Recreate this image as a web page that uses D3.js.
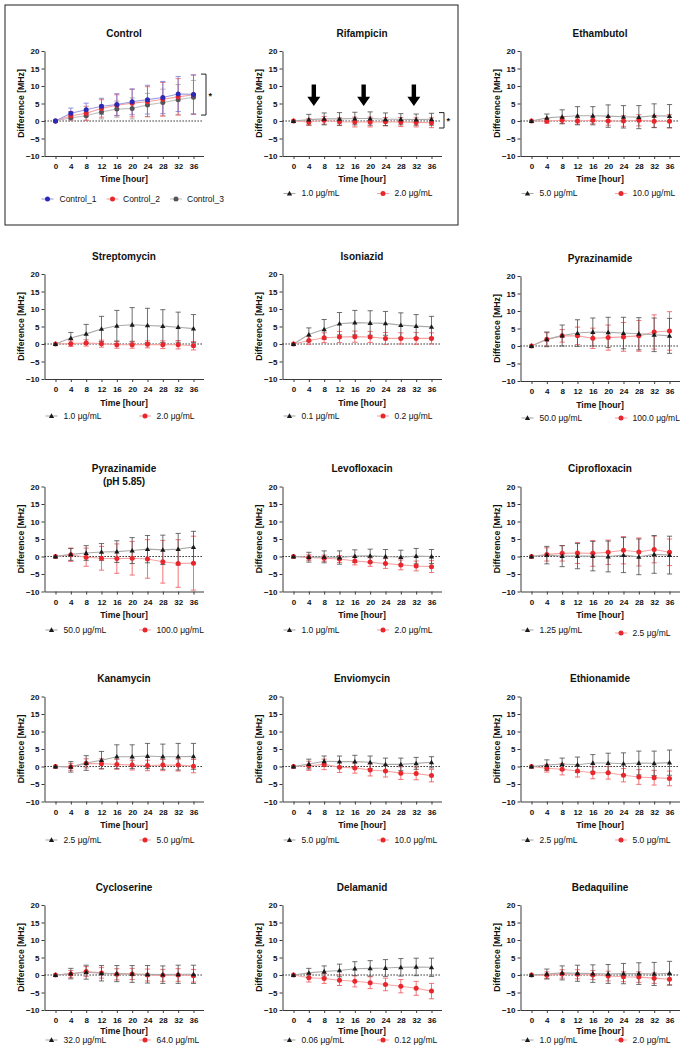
<!DOCTYPE html>
<html><head><meta charset="utf-8">
<script src="https://cdn.jsdelivr.net/npm/d3@7"></script>
<style>
body{margin:0;background:#fff}
svg{display:block}
text{font-family:"Liberation Sans",Arial,Helvetica,sans-serif}
</style>
</head><body>
<svg id="chart" width="685" height="1046"></svg>
<script>
// ---------- DATA ----------
const times = [0,4,8,12,16,20,24,28,32,36];
const yTicks = [-10,-5,0,5,10,15,20];

const controlNames = ["Control_1","Control_2","Control_3"];
const control1 = [0,2.2,3.2,4.2,4.7,5.5,6.1,6.7,7.7,7.6];
const control1SD = [0,1.5,1.9,2.3,3.1,3.7,4.1,4.6,5.0,5.6];
const control2 = [0,1.5,2.2,3.6,4.5,5.1,5.5,6.2,6.9,7.5];
const control2SD = [0,1.2,2.0,2.5,3.0,3.9,4.3,4.8,5.2,5.6];
const control3 = [0,0.9,1.5,2.6,3.4,3.6,4.6,5.3,6.1,6.8];
const control3SD = [0,0.8,1.3,2.0,2.3,3.0,3.3,3.8,4.3,4.8];

const drugTitles = ["Rifampicin","Ethambutol","Streptomycin","Isoniazid","Pyrazinamide","Pyrazinamide|(pH 5.85)","Levofloxacin","Ciprofloxacin","Kanamycin","Enviomycin","Ethionamide","Cycloserine","Delamanid","Bedaquiline"];
const lowDoseLabels = ["1.0 μg/mL","5.0 μg/mL","1.0 μg/mL","0.1 μg/mL","50.0 μg/mL","50.0 μg/mL","1.0 μg/mL","1.25 μg/mL","2.5 μg/mL","5.0 μg/mL","2.5 μg/mL","32.0 μg/mL","0.06 μg/mL","1.0 μg/mL"];
const highDoseLabels = ["2.0 μg/mL","10.0 μg/mL","2.0 μg/mL","0.2 μg/mL","100.0 μg/mL","100.0 μg/mL","2.0 μg/mL","2.5 μg/mL","5.0 μg/mL","10.0 μg/mL","5.0 μg/mL","64.0 μg/mL","0.12 μg/mL","2.0 μg/mL"];

const rifampicinLow = [0,0.4,0.6,0.6,0.7,0.7,0.5,0.5,0.4,0.5];
const rifampicinLowSD = [0,1.5,1.7,1.8,1.8,1.9,1.8,1.6,1.6,1.7];
const rifampicinHigh = [0,-0.3,0.2,-0.2,-0.3,-0.3,-0.2,-0.3,-0.4,-0.5];
const rifampicinHighSD = [0,1.0,1.1,1.1,1.4,1.4,1.2,1.3,1.3,1.4];

const ethambutolLow = [0,0.9,1.2,1.5,1.5,1.4,1.2,1.1,1.5,1.4];
const ethambutolLowSD = [0,1.1,2.0,2.6,2.6,3.2,3.2,3.3,3.4,3.3];
const ethambutolHigh = [0,0,0.2,0,0.2,0,0,0.2,-0.1,-0.1];
const ethambutolHighSD = [0,0.7,0.9,0.9,1.0,1.2,1.5,1.6,1.7,1.9];

const streptomycinLow = [0,1.7,2.9,4.3,5.2,5.5,5.3,5.1,4.8,4.4];
const streptomycinLowSD = [0,1.6,2.7,3.6,4.4,4.9,4.9,4.7,4.3,4.0];
const streptomycinHigh = [0,0.1,0.3,0.1,-0.2,-0.2,-0.1,-0.2,-0.2,-0.5];
const streptomycinHighSD = [0,0.8,0.9,1.0,1.0,1.0,1.0,1.1,1.2,1.2];

const isoniazidLow = [0,2.7,4.2,5.8,6.1,6.0,5.9,5.4,5.1,4.9];
const isoniazidLowSD = [0,1.9,2.8,3.2,3.5,3.5,3.4,3.5,3.3,3.0];
const isoniazidHigh = [0,1.0,1.8,2.0,2.1,2.0,1.6,1.6,1.6,1.6];
const isoniazidHighSD = [0,1.1,1.4,1.6,1.6,1.6,1.7,1.6,1.7,1.6];

const pyrazinamideLow = [0,1.9,3.0,3.7,4.0,3.9,3.7,3.5,3.2,2.9];
const pyrazinamideLowSD = [0,2.1,3.0,3.8,4.0,4.3,4.5,4.6,4.8,5.0];
const pyrazinamideHigh = [0,1.9,2.9,2.9,2.2,2.4,2.6,2.9,4.0,4.3];
const pyrazinamideHighSD = [0,1.9,1.8,2.5,2.9,3.6,4.1,4.4,4.9,5.5];

const pyrazinamidePhLow = [0,0.6,1.0,1.3,1.4,1.7,2.1,1.9,2.1,2.7];
const pyrazinamidePhLowSD = [0,1.7,2.1,2.4,3.1,3.7,3.9,4.2,4.5,4.5];
const pyrazinamidePhHigh = [0,0.5,-0.2,-0.5,-0.6,-0.5,-0.7,-1.5,-2.0,-1.9];
const pyrazinamidePhHighSD = [0,1.9,2.6,3.4,4.2,4.8,5.5,6.1,6.8,7.7];

const levofloxacinLow = [0,-0.2,-0.1,-0.3,0.1,0.2,0,-0.2,0.1,0];
const levofloxacinLowSD = [0,1.4,1.7,1.9,1.8,1.9,2.0,2.0,2.2,2.0];
const levofloxacinHigh = [0,-0.3,-0.5,-0.7,-1.3,-1.6,-2.0,-2.4,-2.7,-2.9];
const levofloxacinHighSD = [0,0.8,0.9,1.0,1.1,1.2,1.4,1.4,1.4,1.7];

const ciprofloxacinLow = [0,0.4,0.1,0.1,0.1,0,0.4,-0.1,0.6,0.4];
const ciprofloxacinLowSD = [0,2.5,3.0,3.6,4.2,4.4,5.0,5.1,5.4,5.4];
const ciprofloxacinHigh = [0,0.6,0.9,1.0,0.9,1.2,1.8,1.3,2.0,1.2];
const ciprofloxacinHighSD = [0,1.9,2.2,3.0,3.7,3.5,3.9,4.0,3.8,3.8];

const kanamycinLow = [0,-0.1,1.0,1.8,2.8,2.8,3.0,2.8,2.8,2.9];
const kanamycinLowSD = [0,1.5,2.1,2.5,3.4,3.4,3.6,3.6,3.8,3.7];
const kanamycinHigh = [0,-0.1,0.9,0.8,0.6,0.4,0.3,0.4,0.4,0.1];
const kanamycinHighSD = [0,1.0,1.3,1.4,1.4,1.4,1.5,1.6,1.7,1.9];

const enviomycinLow = [0,0.7,1.5,1.4,1.4,1.2,0.6,0.6,0.9,1.2];
const enviomycinLowSD = [0,1.4,1.5,1.6,1.8,1.8,1.8,1.8,1.7,1.6];
const enviomycinHigh = [0,0.2,0.6,-0.2,-0.4,-1.0,-1.3,-1.9,-2.0,-2.6];
const enviomycinHighSD = [0,1.3,1.5,1.5,1.5,1.7,1.7,1.8,1.8,1.8];

const ethionamideLow = [0,0.4,0.7,0.5,1.0,1.0,0.8,1.0,0.9,1.1];
const ethionamideLowSD = [0,1.5,1.7,2.2,2.4,2.8,3.1,3.4,3.5,3.6];
const ethionamideHigh = [0,-0.5,-0.8,-1.3,-1.8,-1.8,-2.5,-3.0,-3.2,-3.4];
const ethionamideHighSD = [0,1.1,1.6,1.7,1.7,1.8,1.9,2.1,2.1,2.1];

const cycloserineLow = [0,0.4,0.8,0.5,0.4,0.3,0.2,0.1,0.2,0.2];
const cycloserineLowSD = [0,1.5,2.0,2.2,2.3,2.4,2.5,2.5,2.6,2.6];
const cycloserineHigh = [0,0.3,1.0,0.6,0.2,0.3,0,-0.1,0,-0.2];
const cycloserineHighSD = [0,1.0,1.4,1.5,1.6,1.6,1.7,1.7,1.8,1.8];

const delamanidLow = [0,0.6,1.0,1.3,1.8,1.9,2.0,2.2,2.3,2.2];
const delamanidLowSD = [0,1.3,1.6,1.8,2.0,2.2,2.4,2.5,2.5,2.6];
const delamanidHigh = [0,-0.8,-1.0,-1.5,-1.8,-2.2,-2.7,-3.2,-3.8,-4.6];
const delamanidHighSD = [0,1.2,1.4,1.5,1.6,1.7,1.8,1.9,2.0,2.2];

const bedaquilineLow = [0,0.3,0.6,0.5,0.4,0.3,0.4,0.4,0.3,0.5];
const bedaquilineLowSD = [0,1.4,2.0,2.3,2.5,2.7,2.9,3.1,3.3,3.4];
const bedaquilineHigh = [0,-0.1,0.3,0.2,0,-0.3,-0.5,-0.6,-0.9,-1.2];
const bedaquilineHighSD = [0,1.0,1.2,1.3,1.3,1.4,1.4,1.5,1.5,1.6];

const rifampicinArrowTimes = [5.3, 18.3, 31.4];
const lowSeries = [rifampicinLow,ethambutolLow,streptomycinLow,isoniazidLow,pyrazinamideLow,pyrazinamidePhLow,levofloxacinLow,ciprofloxacinLow,kanamycinLow,enviomycinLow,ethionamideLow,cycloserineLow,delamanidLow,bedaquilineLow];
const lowSeriesSD = [rifampicinLowSD,ethambutolLowSD,streptomycinLowSD,isoniazidLowSD,pyrazinamideLowSD,pyrazinamidePhLowSD,levofloxacinLowSD,ciprofloxacinLowSD,kanamycinLowSD,enviomycinLowSD,ethionamideLowSD,cycloserineLowSD,delamanidLowSD,bedaquilineLowSD];
const highSeries = [rifampicinHigh,ethambutolHigh,streptomycinHigh,isoniazidHigh,pyrazinamideHigh,pyrazinamidePhHigh,levofloxacinHigh,ciprofloxacinHigh,kanamycinHigh,enviomycinHigh,ethionamideHigh,cycloserineHigh,delamanidHigh,bedaquilineHigh];
const highSeriesSD = [rifampicinHighSD,ethambutolHighSD,streptomycinHighSD,isoniazidHighSD,pyrazinamideHighSD,pyrazinamidePhHighSD,levofloxacinHighSD,ciprofloxacinHighSD,kanamycinHighSD,enviomycinHighSD,ethionamideHighSD,cycloserineHighSD,delamanidHighSD,bedaquilineHighSD];

// ---------- LAYOUT ----------
const colX = [44.5, 282.5, 520.5];
const rowTop = [51, 274, 486.5, 696.5, 905];
const legendOff = [142.5, 142, 143.5, 143.5, 135];
const timeOff = [128, 128.5, 128.5, 128.5, 126];
const PLOT_H = 105;

const svg = d3.select("#chart");

const styleLow  = {marker:"triangle", fill:"#1a1a1a", line:"#aaaaaa", bar:"#4a4a4a"};
const styleHigh = {marker:"circle", fill:"#e8262c", line:"#f6a3a3", bar:"#ef5257"};
const controlStyles = [
  {marker:"circle", fill:"#2a2ab5", line:"#9d9de3", bar:"#7676d6"},
  {marker:"circle", fill:"#e8262c", line:"#f6a3a3", bar:"#ef5a5e"},
  {marker:"circle", fill:"#555555", line:"#c4c4c4", bar:"#9a9a9a"}
];

function drawMarker(g, type, cx, cy, fill) {
  if (type === "circle") {
    g.append("circle").attr("cx", cx).attr("cy", cy).attr("r", 2.5).attr("fill", fill);
  } else {
    g.append("path").attr("d", d3.symbol(d3.symbolTriangle, 12)())
      .attr("transform", `translate(${cx},${cy + 0.4})`).attr("fill", fill);
  }
}

function drawPanel(opts) {
  const {x0, top, title, series, legend, legendY, timeY} = opts;
  const g = svg.append("g");
  const x = d3.scaleLinear().domain([-2.87, 38.61]).range([x0, x0 + 159]);
  const y = d3.scaleLinear().domain([-10, 20]).range([top + PLOT_H, top]);

  // title
  const tl = title.split("|");
  const tcx = x0 + 79.5;
  tl.forEach((t, i) => {
    g.append("text").attr("x", tcx).attr("y", top - 18 + (tl.length > 1 ? i * 12.4 : 0) + (tl.length > 1 ? 0.3 : 0))
      .attr("dy", "0.35em").attr("text-anchor", "middle")
      .attr("font-size", 10).attr("font-weight", "bold").attr("fill", "#111").text(t);
  });

  // axes
  const ya = g.append("g").attr("transform", `translate(${x0},0)`)
    .call(d3.axisLeft(y).tickValues(yTicks).tickSize(3).tickSizeOuter(0).tickPadding(2));
  const xa = g.append("g").attr("transform", `translate(0,${top + PLOT_H})`)
    .call(d3.axisBottom(x).tickValues(times).tickSize(3).tickSizeOuter(0).tickPadding(4.5));
  [ya, xa].forEach(a => {
    a.selectAll("path,line").attr("stroke", "#3a3a3a").attr("stroke-width", 1);
    a.selectAll("text").attr("font-size", 8).attr("font-weight", "bold").attr("fill", "#111")
      .attr("font-family", '"Liberation Sans",Arial,sans-serif');
  });

  // axis titles
  g.append("text").attr("transform", `translate(${x0 - 24},${top + PLOT_H / 2}) rotate(-90)`)
    .attr("text-anchor", "middle").attr("dy", "0.35em")
    .attr("font-size", 8.7).attr("font-weight", "bold").attr("fill", "#111").text("Difference [MHz]");
  g.append("text").attr("x", tcx).attr("y", top + timeY).attr("dy", "0.35em")
    .attr("text-anchor", "middle").attr("font-size", 8.7).attr("font-weight", "bold").attr("fill", "#111")
    .text("Time [hour]");

  // zero dotted line
  g.append("line").attr("x1", x0).attr("x2", x0 + 159).attr("y1", y(0)).attr("y2", y(0))
    .attr("stroke", "#111").attr("stroke-width", 1.2).attr("stroke-dasharray", "1.3,1.7");

  // series lines
  const lineGen = d3.line().x((d, i) => x(times[i])).y(d => y(d));
  series.forEach(s => {
    g.append("path").attr("d", lineGen(s.mean)).attr("fill", "none")
      .attr("stroke", s.style.line).attr("stroke-width", 1.1);
  });
  // error bars
  series.forEach(s => {
    s.mean.forEach((m, i) => {
      const sd = s.sd[i];
      if (!sd) return;
      const cx = x(times[i]);
      const eb = g.append("g").attr("stroke", s.style.bar).attr("stroke-width", 0.8);
      eb.append("line").attr("x1", cx).attr("x2", cx).attr("y1", y(m - sd)).attr("y2", y(m + sd));
      eb.append("line").attr("x1", cx - 2.6).attr("x2", cx + 2.6).attr("y1", y(m + sd)).attr("y2", y(m + sd));
      eb.append("line").attr("x1", cx - 2.6).attr("x2", cx + 2.6).attr("y1", y(m - sd)).attr("y2", y(m - sd));
    });
  });
  // markers
  series.forEach(s => {
    s.mean.forEach((m, i) => drawMarker(g, s.style.marker, x(times[i]), y(m), s.style.fill));
  });

  // legend
  legend.forEach(item => {
    const ly = top + legendY + (item.dy || 0);
    const mx = x0 + item.mx;
    g.append("line").attr("x1", mx - 6).attr("x2", mx + 6).attr("y1", ly).attr("y2", ly)
      .attr("stroke", item.style.line).attr("stroke-width", 1.1);
    drawMarker(g, item.style.marker, mx, ly, item.style.fill);
    g.append("text").attr("x", x0 + item.tx).attr("y", ly).attr("dy", "0.35em")
      .attr("font-size", 8.5).attr("fill", "#111").text(item.label);
  });
  return {g, x, y};
}

// Control panel (boxed region)
svg.append("rect").attr("x", 5).attr("y", 5).attr("width", 453).attr("height", 220)
  .attr("fill", "none").attr("stroke", "#333").attr("stroke-width", 1.1);

const ctrl = drawPanel({
  x0: colX[0], top: rowTop[0], title: "Control",
  series: [
    {mean: control3, sd: control3SD, style: controlStyles[2]},
    {mean: control2, sd: control2SD, style: controlStyles[1]},
    {mean: control1, sd: control1SD, style: controlStyles[0]}
  ],
  legend: [
    {mx: 3, tx: 15, label: controlNames[0], style: controlStyles[0]},
    {mx: 68, tx: 78.5, label: controlNames[1], style: controlStyles[1]},
    {mx: 131.5, tx: 142.5, label: controlNames[2], style: controlStyles[2]}
  ],
  legendY: 148, timeY: timeOff[0]
});

function bracket(p, x0, yTop, yBot) {
  const xb = x0 + 161.5;
  p.g.append("path")
    .attr("d", `M${xb - 5},${p.y(yTop)}H${xb}V${p.y(yBot)}H${xb - 5}`)
    .attr("fill", "none").attr("stroke", "#222").attr("stroke-width", 1);
  p.g.append("text").attr("x", xb + 2.5).attr("y", (p.y(yTop) + p.y(yBot)) / 2 + 1)
    .attr("dy", "0.35em").attr("font-size", 9).attr("font-weight", "bold").attr("fill", "#111").text("*");
}
bracket(ctrl, colX[0], 13.4, 1.7);

// drug panels
drugTitles.forEach((title, k) => {
  const idx = k + 1;
  const r = Math.floor(idx / 3), c = idx % 3;
  const x0 = colX[c], top = rowTop[r] + (r === 1 && c === 2 ? 2 : 0);
  const p = drawPanel({
    x0, top, title,
    series: [
      {mean: highSeries[k], sd: highSeriesSD[k], style: styleHigh},
      {mean: lowSeries[k], sd: lowSeriesSD[k], style: styleLow}
    ],
    legend: [
      {mx: 7, tx: 19, label: lowDoseLabels[k], style: styleLow},
      {mx: 100.5, tx: 112, label: highDoseLabels[k], style: styleHigh, dy: (k === 7 ? 3 : 0)}
    ],
    legendY: legendOff[r], timeY: timeOff[r]
  });
  if (k === 0) {
    bracket(p, x0, 2.4, -2.0);
    rifampicinArrowTimes.forEach(t => {
      const cx = p.x(t);
      const yt = p.y(10.4), yh = p.y(6.9), yb = p.y(4.3);
      p.g.append("path")
        .attr("d", `M${cx - 2.2},${yt}H${cx + 2.2}V${yh}H${cx + 6.5}L${cx},${yb}L${cx - 6.5},${yh}H${cx - 2.2}Z`)
        .attr("fill", "#000");
    });
  }
});
</script>
</body></html>
